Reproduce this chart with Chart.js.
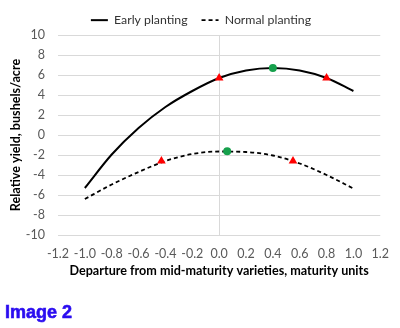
<!DOCTYPE html>
<html>
<head>
<meta charset="utf-8">
<script src="https://cdn.jsdelivr.net/npm/chart.js@4"></script>
<style>
  html, body { margin: 0; padding: 0; background: #fff; }
  #wrap { position: relative; width: 400px; height: 328px; }
  #caption {
    position: absolute; left: 5px; top: 302px;
    font: bold 18px "Liberation Sans", Arial, sans-serif;
    color: #2a0cf0; -webkit-text-stroke: 0.6px #2a0cf0;
  }
</style>
</head>
<body>
<div id="wrap">
  <canvas id="yieldChart" width="400" height="328"></canvas>
  <div id="caption">Image 2</div>
</div>
<script>
// maturity departure (x) and relative yield for each planting date
const maturity = [-1.0, -0.8, -0.6, -0.4, -0.2, 0.0, 0.2, 0.4, 0.6, 0.8, 1.0];
const earlyYield = [-5.3, -1.95, 0.7, 2.8, 4.4, 5.7, 6.45, 6.7, 6.45, 5.7, 4.4];
const normalYield = [-6.4, -4.95, -3.7, -2.6, -1.9, -1.65, -1.7, -2.05, -2.85, -4.0, -5.35];

// highlighted points: red triangles and green optimum
const earlyTriX = [0.0, 0.8];
const earlyTriY = [5.7, 5.7];
const earlyOptX = [0.4];
const earlyOptY = [6.7];
const normalTriX = [-0.43, 0.55];
const normalTriY = [-2.6, -2.6];
const normalOptX = [0.06];
const normalOptY = [-1.63];

const xTicks = [-1.2, -1.0, -0.8, -0.6, -0.4, -0.2, 0.0, 0.2, 0.4, 0.6, 0.8, 1.0, 1.2];
const yTicks = [-10, -8, -6, -4, -2, 0, 2, 4, 6, 8, 10];

const FONT = 'Lato, "Open Sans", sans-serif';
const GRID = '#d9d9d9';

function toPoints(xs, ys) {
  return xs.map((x, i) => ({ x: x, y: ys[i] }));
}

function markerSet(xs, ys, style, color, r) {
  return {
    data: toPoints(xs, ys),
    showLine: false,
    pointStyle: style,
    pointRadius: r,
    backgroundColor: color,
    borderColor: color,
    borderWidth: 0,
    order: 0
  };
}

// fixed legend block height, and nudge it so it centres on the canvas
const legendBox = {
  id: 'legendBox',
  beforeInit(chart) {
    const fit = chart.legend.fit;
    chart.legend.fit = function() {
      fit.bind(chart.legend)();
      this.height = 35;
    };
  },
  afterLayout(chart) {
    chart.legend.left += 9;
    chart.legend.right += 9;
  }
};

// legend samples: only the two curves, drawn with their own dash
function curveLabels(chart) {
  return chart.data.datasets.slice(0, 2).map((ds, i) => ({
    text: ds.label,
    datasetIndex: i,
    pointStyle: 'line',
    strokeStyle: ds.borderColor,
    fillStyle: ds.borderColor,
    lineWidth: ds.borderWidth,
    lineDash: ds.borderDash || [],
    fontColor: '#333',
    hidden: false
  }));
}

const ctx = document.getElementById('yieldChart').getContext('2d');
const chart = new Chart(ctx, {
  type: 'scatter',
  data: {
    datasets: [
      {
        label: 'Early planting',
        data: toPoints(maturity, earlyYield),
        showLine: true,
        borderColor: '#000',
        backgroundColor: '#000',
        borderWidth: 2,
        pointRadius: 0,
        cubicInterpolationMode: 'monotone',
        order: 1
      },
      {
        label: 'Normal planting',
        data: toPoints(maturity, normalYield),
        showLine: true,
        borderColor: '#000',
        backgroundColor: '#000',
        borderWidth: 1.8,
        borderDash: [4, 3],
        pointRadius: 0,
        cubicInterpolationMode: 'monotone',
        order: 1
      },
      markerSet(earlyTriX, earlyTriY, 'triangle', '#ff0000', 5),
      markerSet(normalTriX, normalTriY, 'triangle', '#ff0000', 5),
      markerSet(earlyOptX, earlyOptY, 'circle', '#16a04c', 4),
      markerSet(normalOptX, normalOptY, 'circle', '#16a04c', 4)
    ]
  },
  options: {
    responsive: false,
    animation: false,
    layout: { padding: { left: 0, right: 16, top: 0, bottom: 50 } },
    plugins: {
      tooltip: { enabled: false },
      legend: {
        position: 'top',
        labels: {
          generateLabels: curveLabels,
          usePointStyle: true,
          pointStyleWidth: 17,
          boxHeight: 8,
          padding: 14,
          color: '#333',
          font: { family: FONT, size: 12.3 }
        }
      }
    },
    scales: {
      x: {
        type: 'linear',
        min: -1.2,
        max: 1.2,
        afterBuildTicks: scale => { scale.ticks = xTicks.map(v => ({ value: v })); },
        afterFit: scale => { scale.height = 43; },
        border: { display: false },
        grid: {
          drawTicks: false,
          color: c => (c.tick && c.tick.value === 0 ? GRID : 'rgba(0,0,0,0)')
        },
        ticks: {
          padding: 11,
          minRotation: 0,
          maxRotation: 0,
          autoSkip: false,
          color: '#595959',
          font: { family: FONT, size: 12.5 },
          callback: v => Number(v).toFixed(1)
        },
        title: {
          display: true,
          text: 'Departure from mid-maturity varieties, maturity units',
          color: '#000',
          padding: 0,
          font: { family: FONT, size: 12.6, weight: 'bold' }
        }
      },
      y: {
        type: 'linear',
        min: -10,
        max: 10,
        afterBuildTicks: scale => { scale.ticks = yTicks.map(v => ({ value: v })); },
        afterFit: scale => { scale.width = 58; },
        border: { display: false },
        grid: { drawTicks: false, color: GRID },
        ticks: {
          padding: 13,
          color: '#595959',
          font: { family: FONT, size: 12.5 }
        },
        title: {
          display: true,
          text: 'Relative yield, bushels/acre',
          color: '#000',
          padding: { top: 8, bottom: 0 },
          font: { family: FONT, size: 12.6, weight: 'bold' }
        }
      }
    }
  },
  plugins: [legendBox]
});
</script>
</body>
</html>
